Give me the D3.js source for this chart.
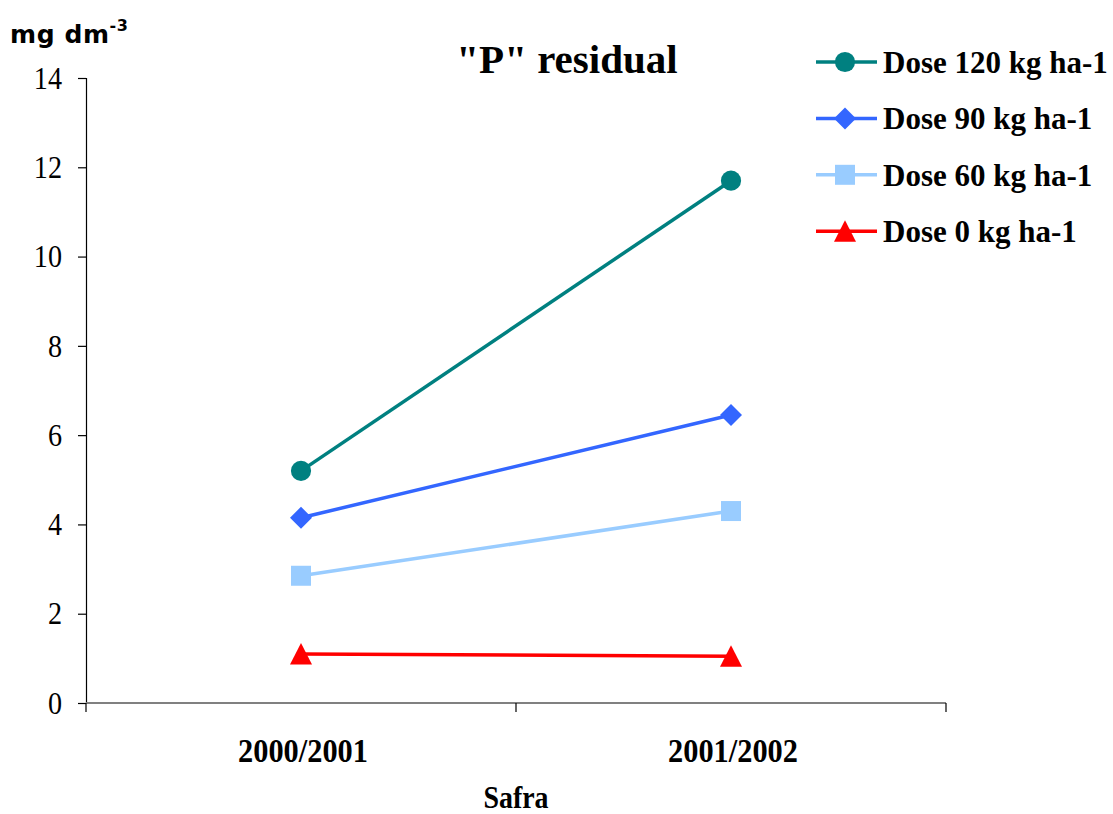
<!DOCTYPE html>
<html>
<head>
<meta charset="utf-8">
<script src="https://cdn.jsdelivr.net/npm/d3@7"></script>
<style>
  html, body { margin: 0; padding: 0; background: #fff; }
  svg { display: block; }
</style>
</head>
<body>
<svg id="chart" width="1113" height="814"></svg>
<script>
// Harvest seasons on the x axis
const categories = ["2000/2001", "2001/2002"];

// Residual P (mg dm-3) for each dose
const dose120 = [5.2, 11.7];
const dose90 = [4.15, 6.45];
const dose60 = [2.85, 4.3];
const dose0 = [1.1, 1.05];

const seriesNames = ["Dose 120 kg ha-1", "Dose 90 kg ha-1", "Dose 60 kg ha-1", "Dose 0 kg ha-1"];
const seriesColors = ["#008080", "#3366FF", "#99CCFF", "#FF0000"];
const seriesSymbols = ["circle", "diamond", "square", "triangle"];
const yTicks = [0, 2, 4, 6, 8, 10, 12, 14];

const series = [dose120, dose90, dose60, dose0].map((values, i) => ({
  name: seriesNames[i], values, color: seriesColors[i], symbol: seriesSymbols[i]
}));

const svg = d3.select("#chart");
const plot = { left: 86, right: 946, top: 78, bottom: 703 };

const x = d3.scaleBand().domain(categories).range([plot.left, plot.right]);
const y = d3.scaleLinear().domain([0, 14]).range([plot.bottom, plot.top]);

const serif = "'Liberation Serif', 'Times New Roman', serif";

// Y axis
const yAxis = svg.append("g")
  .attr("transform", `translate(${plot.left},0)`)
  .call(d3.axisLeft(y).tickValues(yTicks).tickSize(8).tickFormat(d3.format("d")));
yAxis.attr("font-family", null).attr("font-size", null);
yAxis.select(".domain").attr("stroke", "#000").attr("stroke-width", 1.2);
yAxis.selectAll(".tick line").attr("stroke", "#000").attr("stroke-width", 1.2);
yAxis.selectAll(".tick text")
  .attr("fill", "#000")
  .attr("x", 0)
  .attr("transform", "translate(-24,0) scale(0.88,1)")
  .style("font-family", serif)
  .style("font-size", "32px");

// X axis with tick marks on band boundaries
const xAxisG = svg.append("g").attr("transform", `translate(0,${plot.bottom})`);
xAxisG.append("line")
  .attr("x1", plot.left).attr("x2", plot.right).attr("y1", 0).attr("y2", 0)
  .attr("stroke", "#808080").attr("stroke-width", 2);
const bounds = [plot.left, ...categories.map(c => x(c) + x.bandwidth())];
xAxisG.selectAll("line.tk").data(bounds).join("line")
  .attr("class", "tk")
  .attr("x1", d => d).attr("x2", d => d).attr("y1", 0).attr("y2", 9)
  .attr("stroke", "#000").attr("stroke-width", 1.2);
xAxisG.selectAll("text.cat").data(categories).join("text")
  .attr("class", "cat")
  .attr("transform", d => `translate(${x(d) + x.bandwidth() / 2 + 2},59) scale(0.92,1)`)
  .attr("text-anchor", "middle")
  .attr("font-family", serif).attr("font-weight", "bold").attr("font-size", 33)
  .text(d => d);

// Axis titles and chart title
svg.append("text")
  .attr("transform", `translate(${(plot.left + plot.right) / 2},808) scale(0.9,1)`)
  .attr("text-anchor", "middle")
  .attr("font-family", serif).attr("font-weight", "bold").attr("font-size", 31)
  .text("Safra");

const yTitle = svg.append("text")
  .attr("x", 10).attr("y", 43)
  .attr("font-family", "'DejaVu Sans', Verdana, sans-serif").attr("font-weight", "bold")
  .attr("font-size", 25).attr("letter-spacing", 0.6);
yTitle.append("tspan").text("mg dm");
yTitle.append("tspan").attr("dy", -12).attr("font-size", 16).text("-3");

svg.append("text")
  .attr("x", 567).attr("y", 73)
  .attr("text-anchor", "middle")
  .attr("font-family", serif).attr("font-weight", "bold").attr("font-size", 41)
  .text("\"P\" residual");

// Marker shapes, centred on the data point
const markerPaths = {
  circle: d3.symbol().type(d3.symbolCircle).size(320)(),
  diamond: "M0,-11L11,0L0,11L-11,0Z",
  square: "M-10,-10H10V10H-10Z",
  triangle: "M0,-11L11,10.5H-11Z"
};

// Series lines and markers
const line = d3.line()
  .x((d, i) => x(categories[i]) + x.bandwidth() / 2)
  .y(d => y(d));

const g = svg.append("g");
series.forEach(s => {
  g.append("path")
    .attr("d", line(s.values))
    .attr("fill", "none").attr("stroke", s.color).attr("stroke-width", 3.5);
  g.selectAll(null).data(s.values).join("path")
    .attr("transform", (d, i) => `translate(${x(categories[i]) + x.bandwidth() / 2},${y(d)})`)
    .attr("d", markerPaths[s.symbol])
    .attr("fill", s.color);
});

// Legend
const legend = svg.append("g");
series.forEach((s, i) => {
  const ly = 62 + i * 56.4;
  legend.append("line")
    .attr("x1", 816).attr("x2", 877).attr("y1", ly).attr("y2", ly)
    .attr("stroke", s.color).attr("stroke-width", 3.5);
  legend.append("path")
    .attr("transform", `translate(845,${ly})`)
    .attr("d", markerPaths[s.symbol])
    .attr("fill", s.color);
  legend.append("text")
    .attr("x", 883).attr("y", ly + 11)
    .attr("font-family", serif).attr("font-weight", "bold").attr("font-size", 31)
    .text(s.name);
});
</script>
</body>
</html>
